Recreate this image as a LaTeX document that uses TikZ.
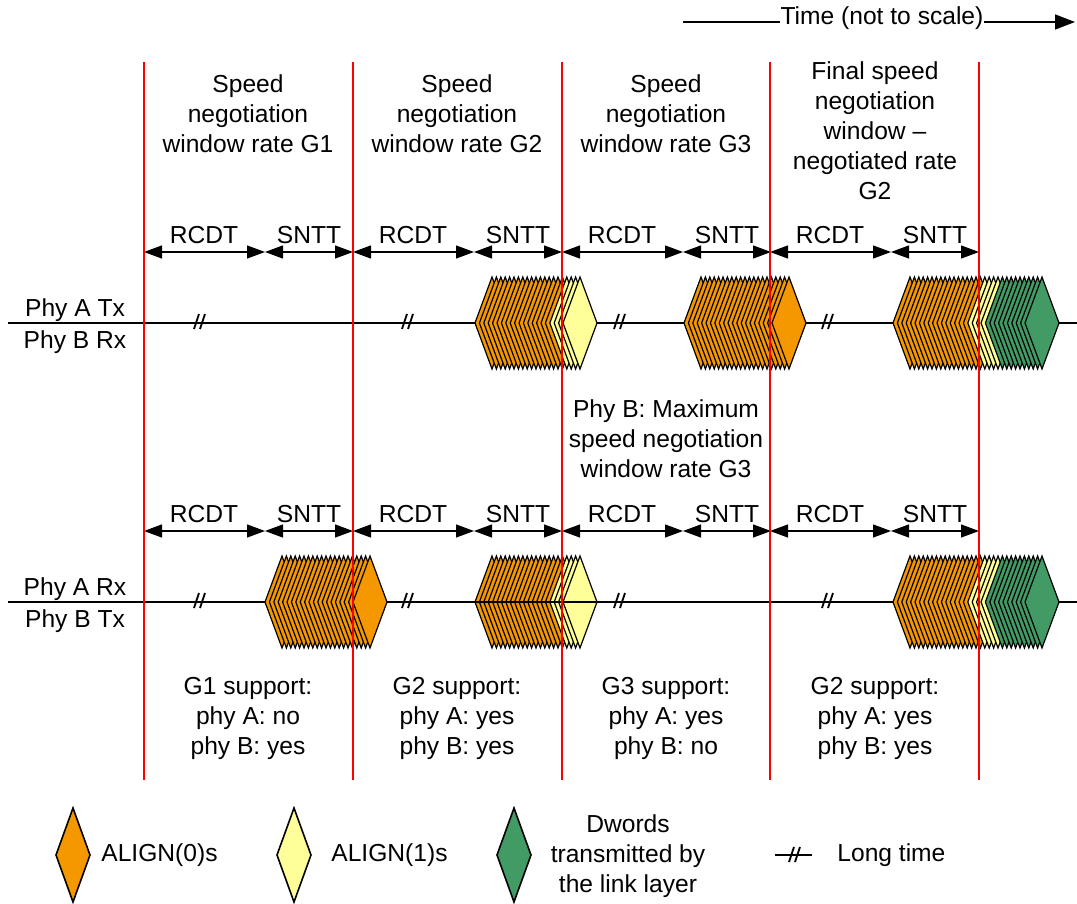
\documentclass[tikz,border=0pt]{standalone}
\usepackage{fontspec}
\setmainfont{Liberation Sans}
\usetikzlibrary{arrows.meta}
\definecolor{aorange}{RGB}{245,152,0}
\definecolor{ayellow}{RGB}{255,255,153}
\definecolor{agreen}{RGB}{66,155,100}
\definecolor{wred}{RGB}{255,0,0}
\newcommand\mycluster[5]{% x, y, orange count, orange+yellow count, last index
  \foreach \i in {0,...,#5} {
    \ifnum\i<#3\relax \def\cc{aorange}\else\ifnum\i<#4\relax \def\cc{ayellow}\else\def\cc{agreen}\fi\fi
    \draw[dia, fill=\cc] ({#1+4.4*\i},#2) -- ++(17,-46) -- ++(17,46) -- ++(-17,46) -- cycle;
  }}
\newcommand\longmark[2]{%
  \draw[slash] ({#1-6},{#2+7}) -- ({#1-1},{#2-8}) ({#1},{#2+7}) -- ({#1+5},{#2-8});}
\begin{document}
\begin{tikzpicture}[x=0.5pt,y=-0.5pt,
  every node/.style={font=\fontsize{12.3}{15}\selectfont, inner sep=0pt},
  lbl/.style={align=center},
  winline/.style={draw=wred, line width=1pt},
  tline/.style={line width=0.8pt},
  slash/.style={line width=0.9pt},
  dim/.style={line width=0.6pt, {Triangle[length=9pt,width=6.5pt]}-{Triangle[length=9pt,width=6.5pt]}},
  dia/.style={draw=black, line width=0.6pt},
]
\useasboundingbox (0,0) rectangle (1077,904);

% time arrow
\node[anchor=base] (time) at (882,25) {Time (not to scale)};
\coordinate (tl) at (683,22);
\coordinate (tr) at (1075,22);
\draw[tline] (tl) -- (time.west |- tl);
\draw[tline, -{Triangle[length=10pt,width=7.5pt]}] (time.east |- tr) -- (tr);

% headings
\node[lbl] (h1) at (248,114) {Speed\\negotiation\\window rate G1};
\node[lbl] (h2) at (457,114) {Speed\\negotiation\\window rate G2};
\node[lbl] (h3) at (666,114) {Speed\\negotiation\\window rate G3};
\node[lbl] (h4) at (875,131) {Final speed\\negotiation\\window –\\negotiated rate\\G2};

% dimension arrows
\foreach \k/\x in {1/144,2/353,3/562,4/770} {
  \coordinate (ua\k) at (\x,252);
  \coordinate (um\k) at (\x+121,252);
  \coordinate (ub\k) at (\x+209,252);
  \draw[dim] (ua\k) -- (um\k);
  \draw[dim] (um\k) -- (ub\k);
  \node[anchor=base] (ur\k) at (\x+60,243) {RCDT};
  \node[anchor=base] (us\k) at (\x+165,243) {SNTT};
  \coordinate (la\k) at (\x,531);
  \coordinate (lm\k) at (\x+121,531);
  \coordinate (lb\k) at (\x+209,531);
  \draw[dim] (la\k) -- (lm\k);
  \draw[dim] (lm\k) -- (lb\k);
  \node[anchor=base] (lr\k) at (\x+60,522) {RCDT};
  \node[anchor=base] (ls\k) at (\x+165,522) {SNTT};
}

% timelines
\coordinate (r1s) at (8,323); \coordinate (r1e) at (1077,323);
\coordinate (r2s) at (8,602); \coordinate (r2e) at (1077,602);
\draw[tline] (r1s) -- (r1e);
\draw[tline] (r2s) -- (r2e);
\node[anchor=base] (atx) at (75,316) {Phy A Tx};
\node[anchor=base] (brx) at (75,348) {Phy B Rx};
\node[anchor=base] (arx) at (75,595) {Phy A Rx};
\node[anchor=base] (btx) at (75,627) {Phy B Tx};

% long time marks
\foreach \x in {200,408,620,828} {
  \longmark{\x}{322}
  \longmark{\x}{601}
}

% diamond clusters
\mycluster{475}{323}{17}{21}{20}
\mycluster{684}{323}{21}{21}{20}
\mycluster{893}{323}{17}{21}{30}
\mycluster{265}{602}{21}{21}{20}
\mycluster{475}{602}{17}{21}{20}
\mycluster{893}{602}{17}{21}{30}
\coordinate (c2s) at (475,602); \coordinate (c2e) at (596,602);
\draw[tline] (c2s) -- (c2e);

% middle note
\node[lbl] (note) at (666,439) {Phy B: Maximum\\speed negotiation\\window rate G3};

% support texts
\node[lbl] (s1) at (248,718) {G1 support:\\phy A: no\\phy B: yes};
\node[lbl] (s2) at (457,718) {G2 support:\\phy A: yes\\phy B: yes};
\node[lbl] (s3) at (666,718) {G3 support:\\phy A: yes\\phy B: no};
\node[lbl] (s4) at (875,718) {G2 support:\\phy A: yes\\phy B: yes};

% window boundaries
\foreach \k/\x in {1/144,2/353,3/562,4/770,5/979} {
  \coordinate (wt\k) at (\x,62);
  \coordinate (wb\k) at (\x,780);
  \draw[winline] (wt\k) -- (wb\k);
}

% legend
\draw[dia, line width=0.8pt, fill=aorange] (56,855) -- ++(17,-47) -- ++(17,47) -- ++(-17,47) -- cycle;
\node[anchor=west] (lg1) at (101,855) {ALIGN(0)s};
\draw[dia, line width=0.8pt, fill=ayellow] (277,855) -- ++(17,-47) -- ++(17,47) -- ++(-17,47) -- cycle;
\node[anchor=west] (lg2) at (331,855) {ALIGN(1)s};
\draw[dia, line width=0.8pt, fill=agreen] (497,855) -- ++(17,-47) -- ++(17,47) -- ++(-17,47) -- cycle;
\node[lbl] (lg3) at (628,856) {Dwords\\transmitted by\\the link layer};
\coordinate (lts) at (775,855); \coordinate (lte) at (812,855);
\draw[tline] (lts) -- (lte);
\longmark{795}{855}
\node[anchor=west] (lg4) at (837,855) {Long time};
\end{tikzpicture}
\end{document}
